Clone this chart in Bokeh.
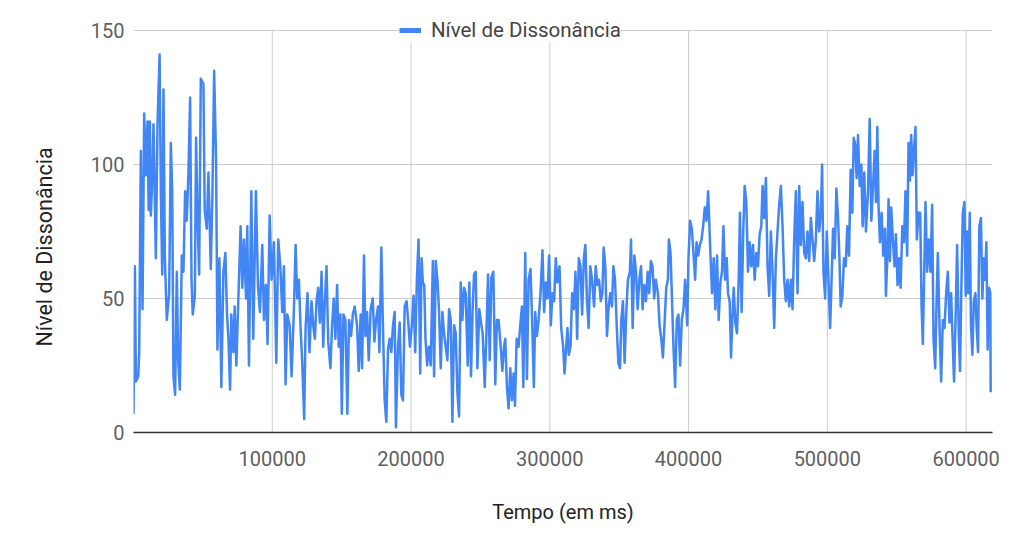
from bokeh.plotting import figure
from bokeh.models import Range1d, FixedTicker, BasicTickFormatter, Legend, LegendItem, Title
from bokeh.embed import file_html
from bokeh.resources import INLINE

# ---- data: time (ms) and dissonance level, in six spans ----
t1 = [0, 1000, 1750, 3400, 4100, 5300, 6500, 7700, 8900, 10100, 10900, 11800, 12500, 13700, 14400,
      16100, 17300, 18800, 19700, 20700, 21600, 22600, 24000, 25700, 26900, 27900, 28800, 30000, 31200,
      32200, 33400, 34800, 36000, 37200, 38400, 39600, 40800, 41800, 42700, 44200, 45100, 46100, 47300,
      48500, 50400, 51300, 52800, 54000, 55700, 56900, 58100, 59500, 60500, 61900, 63300, 64800, 66200,
      67400, 68400, 69600, 70500, 72000, 72900, 74100, 75500, 77200, 78400, 79600, 81100, 82000, 83200,
      84900, 86300, 88200, 89700, 91100, 92800, 94000, 95400, 96600, 98100, 99500]
v1 = [7, 62, 19, 21, 30, 105, 46, 119, 96, 116, 83, 116, 81, 97, 115, 65, 115, 141, 90, 59, 128, 65, 42,
      52, 108, 90, 21, 14, 60, 27, 16, 66, 60, 90, 79, 97, 125, 57, 44, 51, 110, 82, 59, 132, 130, 83, 76,
      97, 61, 90, 135, 102, 31, 65, 17, 60, 67, 44, 35, 16, 44, 30, 47, 25, 49, 77, 54, 72, 50, 77, 25, 90,
      35, 90, 55, 45, 70, 42, 55, 33, 81, 57]

t2 = [101200, 102900, 104300, 105800, 107200, 108400, 109600, 110800, 112500, 113900, 115600, 116800,
      118000, 119200, 120400, 121600, 123000, 124000, 125400, 126800, 128300, 129500, 130700, 131900,
      133100, 134300, 135500, 136700, 137900, 139100, 140300, 141900, 143100, 144300, 145500, 146700,
      147900, 149100, 150100, 151300, 152700, 154100, 155300, 156800, 158000, 159400, 161100, 162300,
      163700, 164700, 166100, 167100, 168300, 169500, 170900, 172400, 173600, 174800, 176200, 177200,
      178600, 180000, 181000, 182200, 183400, 184600, 185800, 187000, 188200, 189100, 190600, 191800,
      193000, 194200, 195400, 196800, 198000, 199200, 200600, 201800, 203000, 204200, 205400, 206600,
      207600]
v2 = [71, 26, 72, 62, 45, 62, 18, 44, 40, 21, 46, 70, 50, 57, 39, 26, 5, 39, 52, 30, 49, 40, 35, 49, 54,
      41, 60, 32, 49, 62, 34, 24, 40, 50, 35, 55, 32, 44, 7, 44, 42, 7, 42, 36, 44, 47, 40, 23, 44, 24, 66,
      36, 45, 27, 46, 50, 34, 42, 47, 30, 69, 34, 12, 4, 31, 35, 30, 40, 45, 2, 32, 41, 14, 12, 47, 49, 41,
      32, 40, 51, 30, 57, 72, 22, 65]

t3 = [208500, 209500, 210400, 211600, 212800, 214200, 215700, 216600, 217800, 219000, 220200, 221400,
      222600, 223800, 225000, 226200, 227400, 228600, 229800, 231000, 232200, 233400, 234600, 235800,
      237000, 238200, 239400, 240800, 242000, 243200, 244400, 245400, 246600, 247800, 249200, 250400,
      251600, 253100, 254300, 255500, 256700, 257900, 259300, 260700, 261900, 263100, 264600, 265800,
      267000, 267900, 269100, 270300, 271500, 272700, 273900, 274900, 276100, 277500, 278700, 279900,
      280900, 282300, 283500, 284700, 286100, 287300, 288500, 289500, 290700, 291900, 293300, 294700,
      295900, 297100, 298300, 299500, 300700, 301900, 303100, 304300, 305500, 307000, 308200, 309600,
      310600, 311800]
v3 = [56, 55, 35, 25, 32, 25, 64, 21, 64, 57, 45, 24, 45, 37, 32, 27, 46, 42, 4, 40, 37, 15, 6, 56, 42,
      54, 52, 25, 56, 21, 46, 59, 60, 24, 46, 41, 37, 17, 37, 59, 27, 58, 60, 18, 42, 42, 32, 23, 32, 35,
      17, 9, 24, 12, 22, 10, 35, 32, 40, 47, 17, 67, 20, 57, 61, 41, 17, 45, 36, 42, 52, 68, 45, 56, 50,
      66, 40, 52, 49, 65, 56, 62, 39, 32, 22, 32]

t4 = [312700, 313700, 314900, 316100, 317300, 318500, 319700, 320900, 322100, 323300, 324500, 325600,
      326800, 328000, 329200, 330400, 331900, 333100, 334300, 335500, 336700, 337900, 338800, 340000,
      341200, 342400, 343600, 344800, 345800, 347000, 348200, 349400, 350600, 351500, 352700, 353900,
      355100, 356300, 357700, 358500, 359700, 360900, 362100, 363300, 364500, 365700, 366900, 368100,
      369300, 370500, 371600, 372800, 374000, 375200, 376400, 377900, 379100, 380300, 381500, 382700,
      383900, 385100, 385800, 387000, 388200, 389100, 390300, 391500, 392700, 393900, 395100, 396300,
      397500, 399000, 399900, 401100, 402300, 403500, 404700, 405700, 406900, 408100, 409300, 410500,
      411700, 412900, 414100]
v4 = [39, 29, 32, 52, 46, 60, 35, 65, 62, 44, 65, 70, 49, 39, 62, 57, 47, 62, 55, 57, 49, 52, 69, 62, 36,
      47, 52, 47, 62, 57, 40, 26, 24, 42, 49, 26, 45, 57, 60, 72, 39, 66, 60, 46, 57, 62, 46, 55, 49, 60,
      52, 64, 62, 50, 57, 52, 40, 35, 28, 41, 54, 57, 72, 67, 47, 32, 17, 42, 44, 25, 42, 46, 57, 40, 65,
      79, 76, 67, 57, 71, 66, 70, 72, 77, 84, 79, 90]

t5 = [415700, 416900, 418100, 419300, 420500, 421700, 422900, 424100, 425100, 426300, 427500, 428400,
      429600, 430600, 431500, 432500, 433700, 434900, 436100, 437000, 438200, 439400, 440400, 441600,
      442800, 444000, 445200, 446400, 447600, 448800, 450000, 451200, 452400, 453300, 454500, 455700,
      456900, 458100, 459300, 460500, 461700, 462900, 464100, 465300, 466500, 467700, 468900, 470100,
      471300, 472500, 473700, 474900, 476100, 477300, 478500, 479700, 480900, 482100, 483300, 484500,
      485700, 486900, 488100, 489300, 490500, 491700, 492900, 494100, 495300, 496200, 497200, 498400,
      499600, 500800, 502000, 503200, 504100, 505300, 506500, 507700, 508700, 509600, 510800, 512000,
      513200, 514400, 515600, 516800, 518000, 519000, 520200]
v5 = [67, 52, 65, 46, 66, 42, 56, 60, 77, 57, 65, 52, 49, 28, 42, 54, 41, 37, 57, 82, 45, 75, 92, 86, 60,
      71, 62, 70, 57, 67, 62, 74, 77, 92, 80, 95, 62, 51, 75, 60, 39, 65, 75, 85, 92, 77, 57, 49, 57, 47,
      57, 46, 72, 90, 52, 92, 70, 86, 67, 65, 75, 64, 80, 72, 64, 72, 90, 75, 82, 100, 60, 50, 75, 57, 39,
      60, 76, 65, 91, 80, 65, 47, 51, 65, 62, 77, 66, 98, 82, 110, 107]

t6 = [521100, 522100, 523300, 524500, 525400, 526600, 527800, 529300, 530500, 531700, 532900, 534100,
      535000, 536000, 536900, 537900, 539100, 540300, 541500, 542200, 543200, 544100, 545100, 546000,
      547200, 548400, 549400, 550600, 551800, 552800, 554000, 555200, 556300, 557500, 558500, 559500,
      560400, 561400, 562300, 563500, 564500, 565700, 566900, 567900, 568800, 569800, 570700, 571900,
      573100, 574300, 575500, 576500, 577700, 578600, 579600, 580800, 582000, 583200, 584400, 585600,
      586800, 588000, 589200, 590100, 591300, 592500, 593500, 594700, 595600, 596600, 597600, 598800,
      599700, 600700, 601600, 602600, 603500, 604500, 605500, 606700, 607600, 608600, 609500, 610700,
      611700, 612600, 613600, 614600, 615500, 616500, 617400, 617700]
v6 = [95, 111, 92, 100, 77, 97, 75, 90, 117, 79, 92, 105, 86, 114, 84, 71, 82, 66, 76, 51, 65, 87, 64, 84,
      72, 62, 74, 55, 65, 54, 77, 71, 90, 66, 108, 94, 111, 96, 105, 114, 72, 82, 82, 47, 33, 60, 86, 60,
      72, 60, 85, 35, 24, 47, 67, 40, 19, 42, 39, 52, 60, 41, 52, 37, 19, 45, 70, 37, 23, 55, 82, 86, 51,
      75, 52, 82, 40, 29, 49, 52, 39, 30, 77, 80, 50, 65, 57, 71, 31, 54, 52, 15]

x_ticks = [100000, 200000, 300000, 400000, 500000, 600000]
y_ticks = [0, 50, 100, 150]
series_name = "Nível de Dissonância"
x_title = "Tempo (em ms)"
y_title = "Nível de Dissonância"

tempo = t1 + t2 + t3 + t4 + t5 + t6
nivel = v1 + v2 + v3 + v4 + v5 + v6

FONT = "Roboto"
BLUE = "#4285F4"
GRID = "#cccccc"

# frame reaches a little above the 150 line so the legend can sit on it
p = figure(width=1015, height=548, output_backend="svg", toolbar_location=None,
           x_range=Range1d(0, 619000), y_range=Range1d(0, 157.46),
           min_border_left=131, min_border_right=23, min_border_top=10, min_border_bottom=116)
p.outline_line_color = None
p.background_fill_color = "white"
p.border_fill_color = "white"

# vertical grid lines limited to the 0..150 band
n = len(x_ticks)
p.segment(x0=x_ticks, y0=[y_ticks[0]] * n, x1=x_ticks, y1=[y_ticks[-1]] * n,
          line_color=GRID, line_width=1, level="underlay")

p.line(tempo, nivel, line_color=BLUE, line_width=2.5, line_join="round")
# a one-point (invisible) line used only as the thick legend swatch
legend_glyph = p.line(tempo[:1], nivel[:1], line_color=BLUE, line_width=5)

# axes
p.xaxis.ticker = FixedTicker(ticks=x_ticks)
p.xaxis.formatter = BasicTickFormatter(use_scientific=False)
p.yaxis.ticker = FixedTicker(ticks=y_ticks)
for ax in (p.xaxis[0], p.yaxis[0]):
    ax.major_tick_line_color = None
    ax.minor_tick_line_color = None
    ax.major_tick_out = 0
    ax.major_tick_in = 0
    ax.minor_tick_out = 0
    ax.minor_tick_in = 0
    ax.major_label_text_font = FONT
    ax.major_label_text_font_size = "20px"
    ax.major_label_text_color = "#5f5f5f"
    ax.axis_label_text_font = FONT
    ax.axis_label_text_font_size = "20px"
    ax.axis_label_text_font_style = "normal"
    ax.axis_label_text_color = "#222222"

p.xaxis.axis_label = x_title
p.xaxis.axis_line_color = "#333333"
p.xaxis.axis_line_width = 1.5
p.xaxis.major_label_standoff = 18
p.xaxis.axis_label_standoff = 31

p.yaxis.axis_line_color = None
p.yaxis.major_label_standoff = 9

p.xgrid.visible = False
p.ygrid.grid_line_color = GRID
p.ygrid.grid_line_width = 1

# y-axis title, placed like the reference (not centred on the frame)
ytitle = Title(text=y_title, align="left", offset=86, vertical_align="middle", standoff=60,
               text_font=FONT, text_font_size="21.5px", text_font_style="normal",
               text_color="#222222")
p.add_layout(ytitle, "left")

legend = Legend(items=[LegendItem(label=series_name, renderers=[legend_glyph])],
                location=(266, 390), orientation="horizontal",
                padding=3, margin=0, spacing=0,
                glyph_width=22, glyph_height=20, label_standoff=10,
                label_text_font=FONT, label_text_font_size="20.5px",
                label_text_color="#444444",
                background_fill_color="white", background_fill_alpha=1.0,
                border_line_color=None)
p.add_layout(legend, "center")

open("out.html", "w").write(file_html(p, INLINE))
